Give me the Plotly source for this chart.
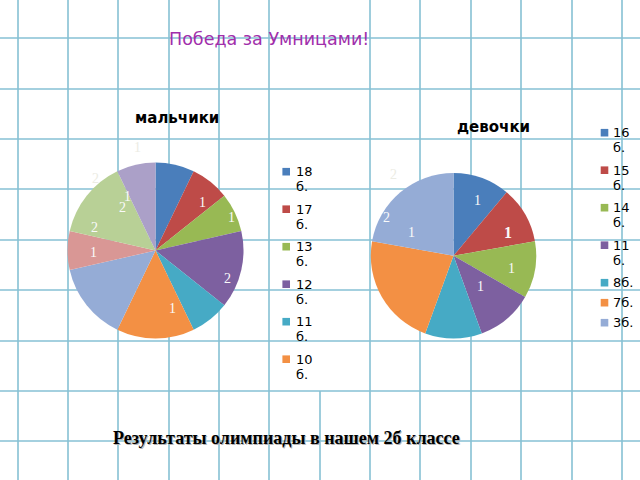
import plotly.graph_objects as go

# ---------------- data ----------------
title_text = "Победа за Умницами!"
footer_text = "Результаты олимпиады в нашем 2б классе"
boys_title = "мальчики"
girls_title = "девочки"

boys_labels = ["18 б.", "17 б.", "13 б.", "12 б.", "11 б.", "10 б.", "9 б.", "8 б.", "7 б.", "6 б."]
boys_values = [1, 1, 1, 2, 1, 2, 2, 1, 2, 1]
boys_colors = ["#4A7EBB", "#BE4B48", "#98B954", "#7D60A0", "#46AAC5",
               "#F39044", "#95ACD6", "#D99795", "#B8D096", "#ABA0C8"]
boys_legend_visible = 6          # the legend in the picture is cut after 6 items
boys_marks = ["1", "2", "1", "2", "2", "1", "1", "1", "2", "1"]

girls_labels = ["16 б.", "15 б.", "14 б.", "11 б.", "8б.", "7б.", "3б."]
girls_values = [1, 1, 1, 1, 1, 2, 2]
girls_colors = ["#4A7EBB", "#BE4B48", "#98B954", "#7D60A0", "#46AAC5", "#F39044", "#95ACD6"]
girls_marks = ["2", "2", "1", "1", "1", "1", "1"]

W, H = 640, 480


def px(x):
    return x / W


def py(y):
    return 1 - y / H


fig = go.Figure()

# ---------------- pies ----------------
def pie_domain(cx, cy, r):
    return dict(x=[px(cx - r), px(cx + r)], y=[py(cy + r), py(cy - r)])


fig.add_trace(go.Pie(
    labels=boys_labels, values=boys_values, sort=False, direction="clockwise",
    rotation=0, marker=dict(colors=boys_colors, line=dict(width=0)),
    textinfo="none", showlegend=False, domain=pie_domain(155.5, 250.5, 88),
))
fig.add_trace(go.Pie(
    labels=girls_labels, values=girls_values, sort=False, direction="clockwise",
    rotation=0, marker=dict(colors=girls_colors, line=dict(width=0)),
    textinfo="none", showlegend=False, domain=pie_domain(453.5, 255.7, 82.7),
))

shapes = []
annotations = []

# ---------------- notebook grid ----------------
grid_color = "#86C1D4"
vx = [18, 68, 118, 169, 219, 269, 320, 370, 420, 471, 521, 572, 622]
hy = [38, 89, 139, 189, 240, 290, 341, 391, 441]
for x in vx:
    y0 = 391 if x == 320 else 0
    shapes.append(dict(type="line", xref="paper", yref="paper", layer="below",
                       x0=px(x), x1=px(x), y0=py(y0), y1=py(H),
                       line=dict(color=grid_color, width=1.6)))
for y in hy:
    shapes.append(dict(type="line", xref="paper", yref="paper", layer="below",
                       x0=0, x1=1, y0=py(y), y1=py(y),
                       line=dict(color=grid_color, width=1.6)))


def text(x, y, s, size, color="#000000", family="DejaVu Sans", xanchor="center",
         weight="normal", shadow=None):
    f = dict(size=size, color=color, family=family, weight=weight)
    if shadow:
        f["shadow"] = shadow
    annotations.append(dict(x=px(x), y=py(y), xref="paper", yref="paper", text=s,
                            showarrow=False, xanchor=xanchor, yanchor="middle",
                            font=f, borderpad=0))


# ---------------- titles ----------------
text(269, 39, title_text, 17.5, color="#A12EAB")
text(176.5, 118, boys_title, 15, weight="bold")
text(493, 127, girls_title, 15, weight="bold")
text(286, 438, footer_text, 18, family="Liberation Serif", weight="bold",
     shadow="1px 1px 0px #b4b4b4")

# ---------------- slice labels ----------------
boys_mark_pos = [(137, 147, True), (95, 178, True), (127, 196, False), (122, 207, False),
                 (94, 227, False), (93, 252, False), (202, 202, False), (231, 217, False),
                 (227, 278, False), (172, 308, False)]
for s, (x, y, faint) in zip(boys_marks, boys_mark_pos):
    text(x, y, s, 14, color="#ECECE4" if faint else "#FAFAFA", family="Liberation Serif")

girls_mark_pos = [(393, 174, True), (386, 218, False), (411, 232, False), (477, 200, False),
                  (508, 233, False), (511, 268, False), (480, 286, False)]
for i, (s, (x, y, faint)) in enumerate(zip(girls_marks, girls_mark_pos)):
    text(x, y, s, 16 if i == 4 else 14, color="#ECECE4" if faint else "#FAFAFA",
         family="Liberation Serif", weight="bold" if i == 4 else "normal")


# ---------------- legends (drawn as text + squares) ----------------
def legend(labels, colors, sq_x, text_x, y0):
    y = y0
    for lab, col in zip(labels, colors):
        lines = lab.split(" ")
        shapes.append(dict(type="rect", xref="paper", yref="paper",
                           x0=px(sq_x), x1=px(sq_x + 7.6), y0=py(y + 3.8), y1=py(y - 3.8),
                           fillcolor=col, line=dict(width=0)))
        for k, ln in enumerate(lines):
            text(text_x, y + k * 15, ln, 13, xanchor="left")
        y += 17.5 * len(lines) + 2.5


legend(boys_labels[:boys_legend_visible], boys_colors[:boys_legend_visible], 282.4, 294.5, 171.7)
legend(girls_labels, girls_colors, 600.7, 611.5, 132.7)

fig.update_layout(
    width=W, height=H, autosize=False,
    margin=dict(l=0, r=0, t=0, b=0),
    paper_bgcolor="white", plot_bgcolor="white",
    shapes=shapes, annotations=annotations,
    showlegend=False,
)

fig.write_html("out.html", config={"displayModeBar": False},
               post_script="document.body.style.margin='0';document.body.style.overflow='hidden';")
